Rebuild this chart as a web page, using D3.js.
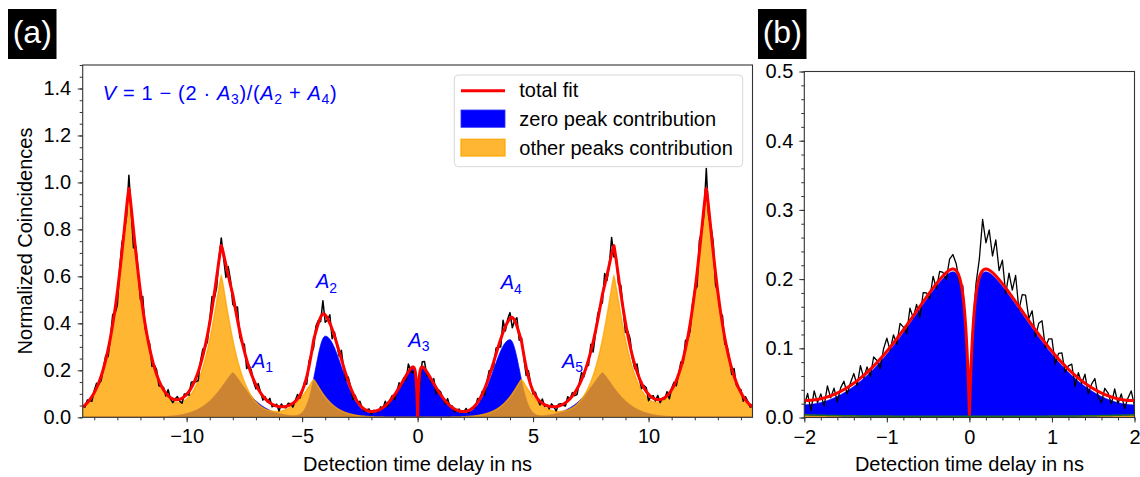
<!DOCTYPE html>
<html>
<head>
<meta charset="utf-8">
<script src="https://cdn.jsdelivr.net/npm/d3@7"></script>
<style>
  body { margin: 0; background: #fff; }
  svg text { font-family: "Liberation Sans", Arial, sans-serif; }
</style>
</head>
<body>
<script>
// fitted peaks of the "other peaks" contribution (orange), in ns / normalized units
var otherCenters = [-12.5, -8.5, -4.5, 4.5, 8.5, 12.5];
var otherHeights = [0.97, 0.60, 0.16, 0.16, 0.60, 0.97];
var otherWidths  = [0.76, 0.76, 0.75, 0.75, 0.76, 0.76];
var otherPowers  = [1.2, 1.2, 1.2, 1.2, 1.2, 1.2];

// fitted peaks of the zero peak contribution (blue)
var zeroCenters   = [-8, -4, 0, 4, 8];
var zeroHeights   = [0.19, 0.345, 0.229, 0.33, 0.19];
var zeroWidthsIn  = [1.0, 1.02, 1.05, 1.02, 1.0];   // side facing zero delay
var zeroWidthsOut = [1.0, 0.58, 1.05, 0.58, 1.0];
var zeroPowers    = [1.3, 2.0, 1.72, 2.0, 1.3];
var dipWidth = 0.055;     // width of the dip at zero delay
var background = 0.004;

// measured histogram, panel (a): deviation from the fit, one value per 0.1 ns bin from -14.5 ns
var noiseA = [
  2,-4,5,-1,-7,3,6,-2,-5,1,4,-6,0,7,-3,-8,2,5,-1,-4,
  6,-2,-9,3,1,-5,8,-3,0,4,-7,2,5,-6,-1,3,-4,9,-2,-6,
  1,5,-3,-8,4,0,-5,7,2,-4,-9,3,6,-1,-5,2,8,-3,-6,1,
  4,-2,-7,5,3,-6,0,9,-4,-1,6,-8,2,4,-3,-5,7,1,-6,3,
  -2,8,-5,0,4,-9,6,-1,-3,5,2,-7,1,7,-4,-2,3,-8,5,0,
  -6,4,2,-3,9,-5,-1,6,-7,3,0,-4,8,-2,-6,5,1,-9,4,-3,
  7,-1,-5,2,6,-8,3,0,-4,5,-2,9,-6,1,4,-7,-1,6,-3,2,
  -5,8,-2,-6,3,1,-9,5,7,-4,0,-3,6,-8,2,4,-1,-5,9,-2,
  3,-7,1,5,-4,-1,8,-6,2,0,-5,7,-3,4,-8,1,6,-2,-4,5,
  -1,-6,9,-3,2,4,-7,0,6,-5,3,-2,-8,7,1,-4,5,-1,-6,8,
  -3,2,-5,6,0,-9,4,3,-2,-6,7,-1,5,-4,-7,2,8,-3,1,-5,
  6,-8,-2,4,1,-5,7,-3,0,9,-6,2,-4,5,-1,-7,3,6,-2,-4,
  8,-1,-6,3,5,-9,0,4,-3,7,-5,1,-2,6,-8,2,4,-6,0,5,
  -4,7,-2,-5,3,1,-8,6,-1,-3,9,-4,2,5,-7,0,-2,6,-5,3,
  1,-6,8,-3,-1,4,-7,5,2,-4,6
];

// measured histogram, panel (b): deviation from the fit in 1e-3, one value per 0.04 ns bin from -2 ns
var noiseB = [
  -8,10,-15,13,-5,7,-12,16,-3,9,-13,5,12,-9,4,14,-7,18,-4,8,
  -10,13,3,-14,9,19,-5,12,-8,16,4,-12,18,-3,10,-16,13,6,-9,17,
  -7,12,5,-10,16,21,10,-8,13,-5,
  0,
  8,16,26,74,38,58,24,52,13,34,
  -8,28,10,38,-5,24,30,3,21,-10,16,26,-7,12,18,-13,8,14,-9,5,
  12,-16,8,-4,13,-12,5,16,-8,-14,9,4,-10,13,-7,8,-12,3,14,-8
];

// annotations: label, subscript, delay (ns), height
var areaLabels = [["A", "1", -7.17, 0.21], ["A", "2", -4.4, 0.55], ["A", "3", -0.4, 0.30],
                  ["A", "4", 3.6, 0.545], ["A", "5", 6.25, 0.21]];

var xTicksA = [-10, -5, 0, 5, 10];
var yTicksA = [0, 0.2, 0.4, 0.6, 0.8, 1.0, 1.2, 1.4];
var xTicksB = [-2, -1, 0, 1, 2];
var yTicksB = [0, 0.1, 0.2, 0.3, 0.4, 0.5];

var legendLabels = ["total fit", "zero peak contribution", "other peaks contribution"];

function zeroPeak(t, i) {
    var c = zeroCenters[i], d = t - c;
    var w = (c !== 0 && d * c < 0) ? zeroWidthsIn[i] : zeroWidthsOut[i];
    var v = zeroHeights[i] * Math.exp(-Math.pow(Math.abs(d) / w, zeroPowers[i]));
    if (c === 0) v *= 1 - Math.exp(-Math.abs(d) / dipWidth);
    return v;
}
function otherPeak(t, i) {
    var d = t - otherCenters[i];
    return otherHeights[i] * Math.exp(-Math.pow(Math.abs(d) / otherWidths[i], otherPowers[i]));
}
function zeroSum(t) { return d3.sum(zeroCenters, function(c, i) { return zeroPeak(t, i); }); }
function otherSum(t) { return d3.sum(otherCenters, function(c, i) { return otherPeak(t, i); }); }
function totalFit(t) { return zeroSum(t) + otherSum(t) + background; }

var svg = d3.select("body").append("svg")
    .attr("width", 1140)
    .attr("height", 477);

var fmtX = function(d) { return d < 0 ? "\u2212" + Math.abs(d) : String(d); };

function drawAxes(x, y, xMajor, xMinorStep, yMajor, yMinorStep, yPad) {
    var bottom = y.range()[0], top = y.range()[1];
    var left = x.range()[0], right = x.range()[1];
    var xd = x.domain(), yd = y.domain();
    var xMinor = d3.range(Math.ceil(xd[0] / xMinorStep - 1e-9), Math.floor(xd[1] / xMinorStep + 1e-9) + 1)
        .map(function(k) { return +(k * xMinorStep).toFixed(4); });
    var yMinor = d3.range(0, Math.floor(yd[1] / yMinorStep + 1e-9) + 1)
        .map(function(k) { return +(k * yMinorStep).toFixed(4); });

    var parts = [
        svg.append("g").attr("transform", "translate(0," + bottom + ")")
            .call(d3.axisBottom(x).tickValues(xMinor).tickSize(3).tickFormat("")),
        svg.append("g").attr("transform", "translate(0," + bottom + ")")
            .call(d3.axisBottom(x).tickValues(xMajor).tickSize(5).tickPadding(7).tickFormat(fmtX)),
        svg.append("g").attr("transform", "translate(" + left + ",0)")
            .call(d3.axisLeft(y).tickValues(yMinor).tickSize(3).tickFormat("")),
        svg.append("g").attr("transform", "translate(" + left + ",0)")
            .call(d3.axisLeft(y).tickValues(yMajor).tickSize(5).tickPadding(yPad).tickFormat(d3.format(".1f")))
    ];
    parts.forEach(function(g) {
        g.select(".domain").remove();
        g.selectAll(".tick line").attr("stroke", "#333").attr("stroke-width", 1);
        g.selectAll(".tick text")
            .attr("font-size", 20)
            .attr("font-family", "Liberation Sans, Arial, sans-serif")
            .attr("fill", "#000");
    });

    svg.append("rect")
        .attr("x", left).attr("y", top)
        .attr("width", right - left).attr("height", bottom - top)
        .attr("fill", "none").attr("stroke", "#333").attr("stroke-width", 1.1);
}

function drawData(id, x, y, grid, black, blackWidth) {
    svg.append("clipPath").attr("id", id)
        .append("rect")
        .attr("x", x.range()[0]).attr("y", y.range()[1])
        .attr("width", x.range()[1] - x.range()[0])
        .attr("height", y.range()[0] - y.range()[1]);

    var g = svg.append("g").attr("clip-path", "url(#" + id + ")");

    g.append("path").datum(grid)
        .attr("fill", "#0000ff").attr("stroke", "#0000ff").attr("stroke-width", 0.8)
        .attr("d", d3.area().x(function(d) { return x(d.t); })
            .y0(y(0)).y1(function(d) { return y(d.zero); }));

    g.append("path").datum(grid)
        .attr("fill", "orange").attr("fill-opacity", 0.8)
        .attr("stroke", "orange").attr("stroke-opacity", 0.8).attr("stroke-width", 1.5)
        .attr("d", d3.area().x(function(d) { return x(d.t); })
            .y0(y(0)).y1(function(d) { return y(d.other); }));

    g.append("path").datum(black)
        .attr("fill", "none").attr("stroke", "#000").attr("stroke-width", blackWidth)
        .attr("stroke-linejoin", "round")
        .attr("d", d3.line().x(function(d) { return x(d.t); }).y(function(d) { return y(d.v); }));

    g.append("path").datum(grid)
        .attr("fill", "none").attr("stroke", "#ff0000").attr("stroke-width", 3)
        .attr("stroke-linejoin", "round")
        .attr("d", d3.line().x(function(d) { return x(d.t); }).y(function(d) { return y(d.total); }));
    return g;
}

function fitGrid(t0, t1, step) {
    return d3.range(t0, t1 + step / 2, step).map(function(t) {
        return { t: t, zero: zeroSum(t), other: otherSum(t), total: totalFit(t) };
    });
}

// ---------- panel (a) ----------
var xA = d3.scaleLinear().domain([-14.5, 14.5]).range([82.7, 752.5]);
var yA = d3.scaleLinear().domain([0, 1.5]).range([417.3, 65]);

var gridA = fitGrid(-14.5, 14.5, 0.01);
var blackA = noiseA.map(function(r, i) {
    var t = -14.5 + i * 0.1, f = totalFit(t);
    return { t: t, v: Math.max(0, f + r * 0.0095 * Math.sqrt(f)) };
});
drawData("clipA", xA, yA, gridA, blackA, 1.5);
drawAxes(xA, yA, xTicksA, 1, yTicksA, 0.05, 6.5);

// formula and area labels
function mathText(x, y, parts, size) {
    var t = svg.append("text").attr("x", x).attr("y", y)
        .attr("font-family", "DejaVu Sans").attr("font-size", size).attr("fill", "#0000ff");
    var shift = 0;
    parts.forEach(function(p) {
        var s = t.append("tspan").text(p[0]);
        var want = p[1] === "sub" ? size * 0.22 : 0;
        s.attr("dy", want - shift);
        shift = want;
        if (p[1] === "it") s.attr("font-style", "italic");
        if (p[1] === "sub") s.attr("font-size", size * 0.7);
    });
    return t;
}

mathText(102.7, 100, [["V", "it"], [" = 1 \u2212 (2 \u00b7 "], ["A", "it"], ["3", "sub"],
    [")/("], ["A", "it"], ["2", "sub"], [" + "], ["A", "it"], ["4", "sub"], [")"]], 20)
    .attr("textLength", 234).attr("lengthAdjust", "spacing");

areaLabels.forEach(function(a) {
    mathText(xA(a[2]), yA(a[3]), [[a[0], "it"], [a[1], "sub"]], 20);
});

// legend
var lg = svg.append("g").attr("transform", "translate(454.3,75)");
lg.append("rect").attr("width", 288.4).attr("height", 91.7).attr("rx", 4)
    .attr("fill", "#fff").attr("fill-opacity", 0.8)
    .attr("stroke", "#d8d8d8").attr("stroke-width", 1);
lg.append("line").attr("x1", 6.7).attr("x2", 50.7).attr("y1", 15.7).attr("y2", 15.7)
    .attr("stroke", "#ff0000").attr("stroke-width", 3);
lg.append("rect").attr("x", 6.7).attr("y", 35).attr("width", 44).attr("height", 17.3)
    .attr("fill", "#0000ff").attr("stroke", "#3333ff").attr("stroke-width", 0.8);
lg.append("rect").attr("x", 6.7).attr("y", 64.3).attr("width", 44).attr("height", 16.7)
    .attr("fill", "orange").attr("fill-opacity", 0.8)
    .attr("stroke", "orange").attr("stroke-opacity", 0.8).attr("stroke-width", 1.5);
lg.selectAll("text.lab").data(legendLabels).enter().append("text")
    .attr("class", "lab")
    .attr("x", 65)
    .attr("y", function(d, i) { return 22.3 + i * 29; })
    .attr("font-size", 20).attr("fill", "#000")
    .text(function(d) { return d; });

// axis labels panel (a)
svg.append("text").attr("x", (xA.range()[0] + xA.range()[1]) / 2).attr("y", 471)
    .attr("text-anchor", "middle").attr("font-size", 20).text("Detection time delay in ns");
svg.append("text").attr("transform", "translate(31.5,241) rotate(-90)")
    .attr("text-anchor", "middle").attr("font-size", 20).text("Normalized Coincidences");

// ---------- panel (b) ----------
var xB = d3.scaleLinear().domain([-2, 2]).range([804.3, 1134.5]);
var yB = d3.scaleLinear().domain([0, 0.5]).range([417.5, 71.5]);

var gridB = fitGrid(-2, 2, 0.002);
var blackB = noiseB.map(function(r, i) {
    var t = -2 + i * 0.04;
    return { t: t, v: Math.max(0, totalFit(t) + r / 1000) };
});
var gB = drawData("clipB", xB, yB, gridB, blackB, 1.3);
gB.append("path").datum(gridB)
    .attr("fill", "none").attr("stroke", "#1e6e1e").attr("stroke-width", 1.5)
    .attr("d", d3.line().x(function(d) { return xB(d.t); }).y(function(d) { return yB(d.other) - 1.2; }));
drawAxes(xB, yB, xTicksB, 0.2, yTicksB, 0.02, 6);

svg.append("text").attr("x", (xB.range()[0] + xB.range()[1]) / 2).attr("y", 471)
    .attr("text-anchor", "middle").attr("font-size", 20).text("Detection time delay in ns");

// panel tags
[["(a)", 8, 12.7], ["(b)", 758, 762.7]].forEach(function(p) {
    svg.append("rect").attr("x", p[1]).attr("y", 9).attr("width", 48.5).attr("height", 50).attr("fill", "#000");
    svg.append("text").attr("x", p[2]).attr("y", 42.5)
        .attr("font-family", "Open Sans").attr("font-size", 32).attr("fill", "#fff").text(p[0]);
});
</script>
</body>
</html>
